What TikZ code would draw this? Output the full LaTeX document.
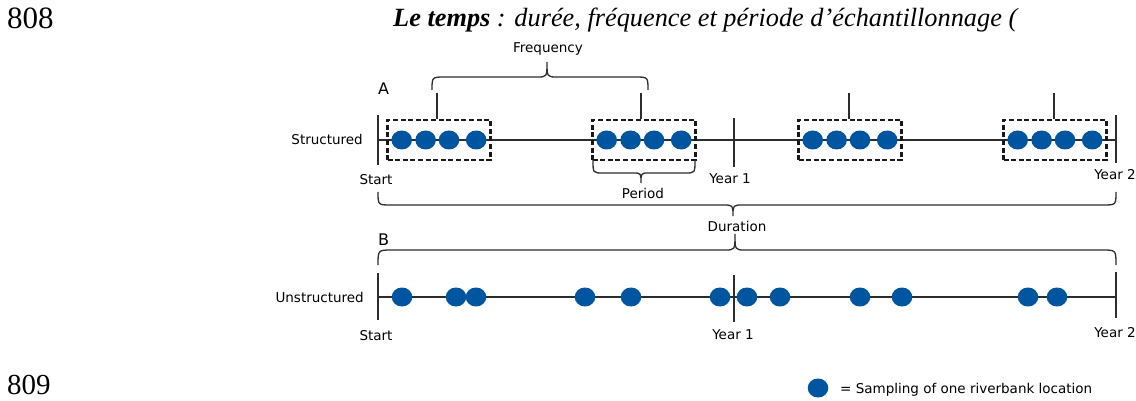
\documentclass[tikz,border=0pt]{standalone}
\usepackage{fontspec}
\usepackage{graphicx}
\setmainfont{Liberation Serif}
\newfontfamily\dv{DejaVu Sans}
\definecolor{dotblue}{RGB}{0,85,160}
\definecolor{ln}{RGB}{45,45,45}
\usetikzlibrary{shapes.geometric}
\tikzset{
  lbl/.style={inner sep=0pt, font=\dv\fontsize{13.5}{16}\selectfont, text=black},
  big/.style={inner sep=0pt, font=\dv\fontsize{16}{19}\selectfont, text=black},
  axis/.style={draw=ln, line width=1.3pt},
  tick/.style={draw=ln, line width=1.4pt},
  brace/.style={draw=ln, line width=1.3pt},
  dbox/.style={draw=black!90, line width=2.1pt, dash pattern=on 5pt off 2.6pt, minimum width=103pt, minimum height=40pt, inner sep=0pt},
  sdot/.style={ellipse, fill=dotblue, minimum width=20.6pt, minimum height=19pt, inner sep=0pt},
}
\begin{document}
\begin{tikzpicture}[x=1pt,y=-1pt]
\useasboundingbox[fill=white] (0,0) rectangle (1136,401);
% page line numbers and title
\node[anchor=base west, inner sep=0pt, font=\fontsize{31}{36}\selectfont] (n808) at (7,29) {808};
\node[anchor=base west, inner sep=0pt, font=\fontsize{29}{34}\selectfont] (n809) at (7,394) {809};
\node[anchor=base west, inner sep=0pt, font=\itshape\fontsize{25}{30}\selectfont] (title) at (393,26.7)
  {\resizebox{624pt}{!}{\textbf{Le temps} : durée, fréquence et période d’échantillonnage (}};

% ---------- Row A ----------
\coordinate (sA) at (378,140);
\coordinate (y1A) at (734,140);
\coordinate (y2A) at (1116,140);
\draw[axis] (sA) -- (y2A);
\draw[tick] (378,115) -- (378,165);
\draw[tick] (734,118) -- (734,167);
\draw[tick] (1116,115) -- (1116,163);

\node[big, anchor=base west] (A) at (378,95) {A};
\node[lbl, anchor=base east] (structured) at (363,145) {Structured};
\node[lbl, anchor=base] (startA) at (376,185) {Start};
\node[lbl, anchor=base] (year1A) at (730,184) {Year 1};
\node[lbl, anchor=base] (year2A) at (1115,180) {Year 2};

\foreach \i/\c in {1/439,2/644,3/850,4/1055}{
  \node[dbox] (b\i) at (\c,140) {};
  \foreach \j/\o in {1/-37.3,2/-13.4,3/10,4/37.2}{
    \node[sdot] (d\i\j) at (\c+\o,140) {};
  }
}
% stems above the boxes
\coordinate (f1) at (437,93);
\coordinate (f2) at (641,93);
\coordinate (f3) at (849,93);
\coordinate (f4) at (1054,93);
\foreach \i in {1,2,3,4}{ \draw[brace] (f\i) -- (f\i |- b\i.north); }

% Frequency brace
\draw[brace] (432,90) .. controls (432,77) .. (445,77) -- (537,77)
  .. controls (547,77) .. (547,62) .. controls (547,77) .. (557,77)
  -- (635,77) .. controls (648,77) .. (648,90);
\node[lbl, anchor=base] (freq) at (548,52.7) {Frequency};

% Period brace
\draw[brace] (593,160) .. controls (593,173) .. (603,173) -- (633,173)
  .. controls (641,173) .. (641,183) .. controls (641,173) .. (649,173)
  -- (685,173) .. controls (695,173) .. (695,160);
\node[lbl, anchor=base] (period) at (643,198) {Period};

% Duration brace (below row A)
\draw[brace] (378,192) .. controls (378,205) .. (391,205) -- (723,205)
  .. controls (733,205) .. (733,216) .. controls (733,205) .. (743,205)
  -- (1103,205) .. controls (1116,205) .. (1116,192);
\node[lbl, anchor=base] (duration) at (737,231) {Duration};

% B brace (above row B)
\draw[brace] (378,265) .. controls (378,250) .. (392,250) -- (725,250)
  .. controls (735,250) .. (735,234) .. controls (735,250) .. (745,250)
  -- (1102,250) .. controls (1116,250) .. (1116,265);
\node[big, anchor=base west] (B) at (378,245) {B};

% ---------- Row B ----------
\coordinate (sB) at (378,297);
\coordinate (y2B) at (1116,297);
\draw[axis] (sB) -- (y2B);
\draw[tick] (378,273) -- (378,320);
\draw[tick] (734,275) -- (734,322);
\draw[tick] (1116,272) -- (1116,318);
\node[lbl, anchor=base east] (unstructured) at (364,302) {Unstructured};
\node[lbl, anchor=base] (startB) at (376,340) {Start};
\node[lbl, anchor=base] (year1B) at (733,339) {Year 1};
\node[lbl, anchor=base] (year2B) at (1115,337) {Year 2};
\foreach \x [count=\k] in {402,456,476,585,631,720,747,780,860,902,1028,1057}{
  \node[sdot] (u\k) at (\x,297) {};
}

% Legend
\node[sdot] (legdot) at (818,388) {};
\node[lbl, anchor=base west] (legtext) at (840,393) {= Sampling of one riverbank location};
\end{tikzpicture}
\end{document}
